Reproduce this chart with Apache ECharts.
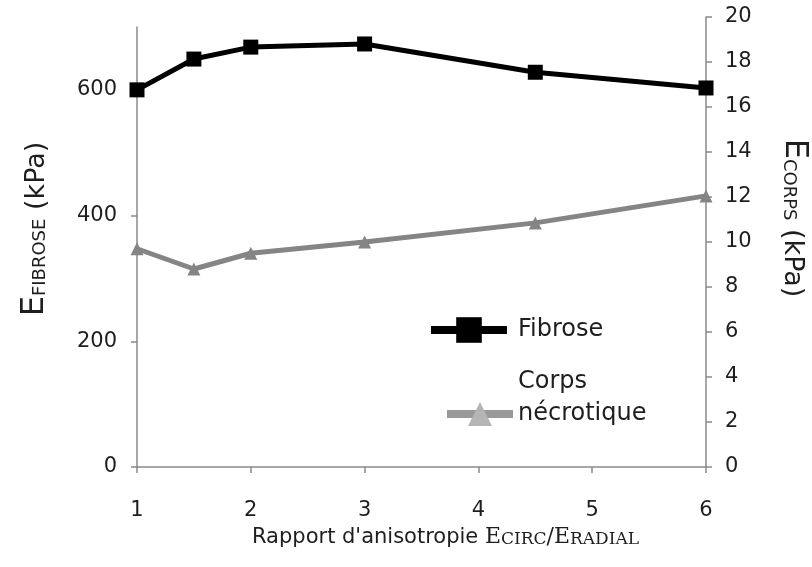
<!DOCTYPE html>
<html><head><meta charset="utf-8">
<script src="https://cdn.jsdelivr.net/npm/echarts@6/dist/echarts.min.js"></script>
<style>html,body{margin:0;padding:0;background:#fff}#c{width:812px;height:567px}</style>
</head><body><div id="c"></div>
<script>
var ratios = [1, 1.5, 2, 3, 4.5, 6];
var fibrose = [600, 649, 668, 673, 628, 603];
var corps = [9.7, 8.8, 9.5, 10.0, 10.85, 12.05];
var xTicks = [1, 2, 3, 4, 5, 6];
var leftTicks = [0, 200, 400, 600];
var rightTicks = [0, 2, 4, 6, 8, 10, 12, 14, 16, 18, 20];

var FONT = '"DejaVu Sans", "Liberation Sans", Arial, sans-serif';
var SERIF = '"DejaVu Serif", "Liberation Serif", serif';
var axisCol = '#8a8a8a';
var txt = '#1e1e1e';
var chart = echarts.init(document.getElementById('c'));
function pairs(xs, ys){ return xs.map(function(x,i){return [x, ys[i]];}); }
var xAxisBase = {
  type: 'value', min: 1, max: 6, interval: 1,
  axisLine: {show: true, lineStyle: {color: axisCol, width: 1.5}},
  axisTick: {show: true, length: 6, lineStyle: {color: axisCol, width: 1.5}},
  splitLine: {show: false},
  axisLabel: {fontFamily: FONT, fontSize: 21, color: txt, margin: 33}
};
var titleRich = {
  e: {fontFamily: FONT, fontSize: 32, color: txt, verticalAlign: 'bottom'},
  s: {fontFamily: FONT, fontSize: 18, color: txt, verticalAlign: 'bottom', padding: [0,0,2,0]},
  u: {fontFamily: FONT, fontSize: 27, color: txt, verticalAlign: 'bottom', padding: [0,0,1,0]}
};
chart.setOption({
  animation: false,
  grid: [
    {left: 137, right: 106, top: 27, bottom: 100, outerBoundsMode: 'none', containLabel: false},
    {left: 137, right: 106, top: 17, bottom: 100, outerBoundsMode: 'none', containLabel: false}
  ],
  legend: [
    {
      left: 427, top: 314, orient: 'vertical', padding: 0,
      itemWidth: 76, itemHeight: 32, itemGap: 0,
      textStyle: {fontFamily: FONT, fontSize: 24, color: txt, lineHeight: 32, padding: [0,0,0,6]},
      data: [{name: 'Fibrose', lineStyle: {width: 8, color: '#000'}, itemStyle: {color: '#000'}}]
    },
    {
      left: 443, top: 366, orient: 'vertical', padding: 0,
      itemWidth: 66, itemHeight: 30, itemGap: 0,
      formatter: function(){ return 'Corps\nnécrotique\n '; },
      textStyle: {fontFamily: FONT, fontSize: 24, color: txt, lineHeight: 32},
      data: [{name: 'Corps nécrotique', lineStyle: {width: 8, color: '#999'}, itemStyle: {color: '#b5b5b5'}}]
    }
  ],
  xAxis: [
    Object.assign({gridIndex: 0,
      name: '{a|Rapport d\'anisotropie }{e|E}{s|CIRC}{e|/E}{s|RADIAL}',
      nameLocation: 'middle', nameGap: 47,
      nameTextStyle: {padding: [0,0,0,48], rich: {
        a: {fontFamily: FONT, fontSize: 21, color: txt, verticalAlign: 'bottom'},
        e: {fontFamily: SERIF, fontSize: 22, color: txt, verticalAlign: 'bottom'},
        s: {fontFamily: SERIF, fontSize: 17, color: txt, verticalAlign: 'bottom'}
      }}
    }, xAxisBase),
    Object.assign({gridIndex: 1, show: false}, xAxisBase)
  ],
  yAxis: [
    {
      type: 'value', gridIndex: 0, min: 0, max: 700, interval: 200, position: 'left',
      axisLine: {show: true, lineStyle: {color: axisCol, width: 1.5}},
      axisTick: {show: true, length: 6, lineStyle: {color: axisCol, width: 1.5}},
      splitLine: {show: false},
      axisLabel: {fontFamily: FONT, fontSize: 21, color: txt, margin: 20, showMaxLabel: false},
      name: '{e|E}{s|FIBROSE}{u| (kPa)}', nameLocation: 'middle', nameGap: 86, nameRotate: 90,
      nameTextStyle: {padding: [0,0,0,36], rich: titleRich}
    },
    {
      type: 'value', gridIndex: 1, min: 0, max: 20, interval: 2, position: 'right',
      axisLine: {show: true, lineStyle: {color: axisCol, width: 1.5}},
      axisTick: {show: true, length: 6, lineStyle: {color: axisCol, width: 1.5}},
      splitLine: {show: false},
      axisLabel: {fontFamily: FONT, fontSize: 21, color: txt, margin: 19},
      name: '{e|E}{s|CORPS}{u| (kPa)}', nameLocation: 'middle', nameGap: 72, nameRotate: -90,
      nameTextStyle: {padding: [0,48,0,0], rich: titleRich}
    }
  ],
  series: [
    {
      name: 'Corps nécrotique', type: 'line', xAxisIndex: 1, yAxisIndex: 1,
      data: pairs(ratios, corps),
      symbol: 'triangle', symbolSize: 13,
      lineStyle: {color: '#858585', width: 5},
      itemStyle: {color: '#858585'}
    },
    {
      name: 'Fibrose', type: 'line', xAxisIndex: 0, yAxisIndex: 0,
      data: pairs(ratios, fibrose),
      symbol: 'rect', symbolSize: 15,
      lineStyle: {color: '#000', width: 5},
      itemStyle: {color: '#000'}
    }
  ]
});
</script></body></html>
